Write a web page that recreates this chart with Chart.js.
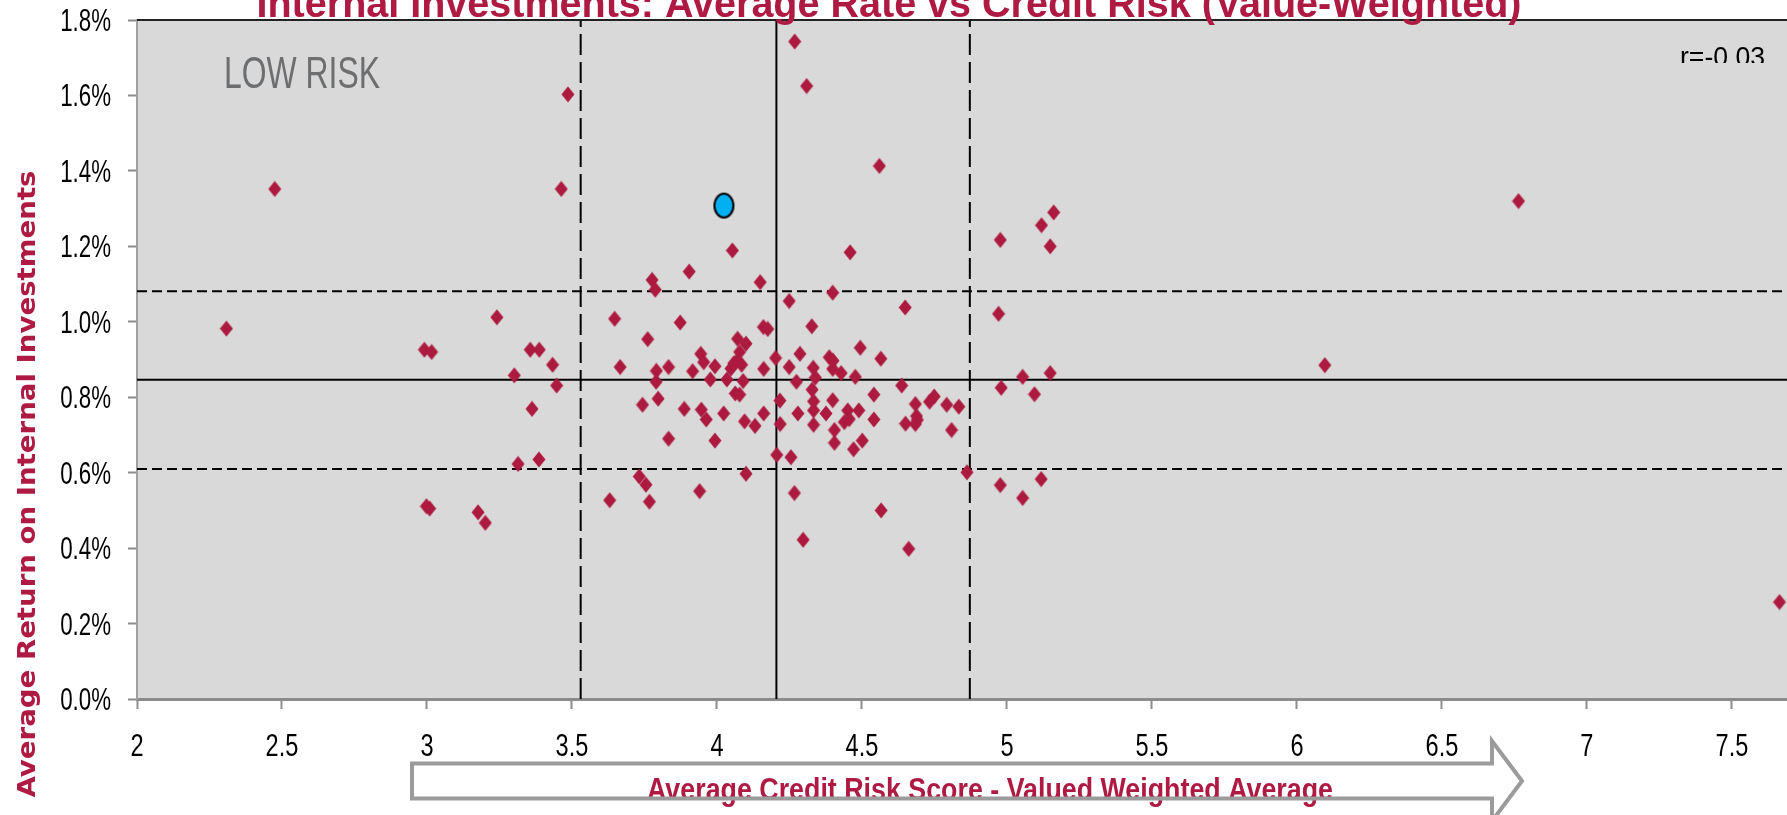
<!DOCTYPE html>
<html>
<head>
<meta charset="utf-8">
<title>Internal Investments: Average Rate vs Credit Risk</title>
<script src="https://cdn.jsdelivr.net/npm/chart.js@4.4.1/dist/chart.umd.min.js"></script>
<style>
    html, body { margin: 0; padding: 0; background: #ffffff; }
    #chart { display: block; }
</style>
</head>
<body>
<canvas id="chart" width="1787" height="815"></canvas>
<script>
// credit risk score (x) and average return in % (y), one entry per investment
const riskScores = [
    2.308, 2.475, 2.991, 2.998, 3.009, 3.016, 3.176, 3.201, 3.241, 3.301,
    3.314, 3.356, 3.362, 3.386, 3.387, 3.433, 3.447, 3.463, 3.486, 3.630,
    3.647, 3.666, 3.732, 3.743, 3.755, 3.761, 3.767, 3.776, 3.787, 3.791,
    3.790, 3.797, 3.833, 3.833, 3.873, 3.887, 3.904, 3.916, 3.940, 3.944,
    3.946, 3.954, 3.963, 3.977, 3.993, 3.993, 4.023, 4.034, 4.048, 4.053,
    4.058, 4.063, 4.070, 4.071, 4.078, 4.078, 4.085, 4.090, 4.095, 4.100,
    4.100, 4.131, 4.149, 4.160, 4.161, 4.161, 4.175, 4.202, 4.206, 4.217,
    4.218, 4.249, 4.249, 4.255, 4.267, 4.268, 4.274, 4.279, 4.286, 4.297,
    4.309, 4.327, 4.328, 4.332, 4.333, 4.333, 4.333, 4.339, 4.376, 4.387,
    4.399, 4.400, 4.399, 4.399, 4.405, 4.405, 4.428, 4.439, 4.451, 4.456,
    4.459, 4.471, 4.477, 4.489, 4.494, 4.501, 4.541, 4.541, 4.560, 4.565,
    4.566, 4.637, 4.649, 4.650, 4.661, 4.684, 4.688, 4.691, 4.684, 4.733,
    4.749, 4.792, 4.809, 4.834, 4.862, 4.971, 4.977, 4.977, 4.980, 5.054,
    5.054, 5.095, 5.118, 5.119, 5.149, 5.149, 5.161, 6.096, 6.764, 7.664
];
const avgReturns = [
    0.982, 1.352, 0.926, 0.511, 0.505, 0.920, 0.495, 0.467, 1.012, 0.858,
    0.623, 0.926, 0.769, 0.635, 0.926, 0.886, 0.831, 1.352, 1.603, 0.527,
    1.008, 0.880, 0.590, 0.780, 0.568, 0.954, 0.523, 1.111, 1.085, 0.870,
    0.841, 0.796, 0.880, 0.690, 0.998, 0.769, 1.133, 0.869, 0.551, 0.915,
    0.767, 0.893, 0.741, 0.847, 0.882, 0.685, 0.757, 0.847, 0.876, 1.189,
    0.890, 0.810, 0.897, 0.955, 0.920, 0.807, 0.886, 0.843, 0.736, 0.942,
    0.597, 0.724, 1.105, 0.986, 0.875, 0.757, 0.981, 0.904, 0.647, 0.791,
    0.729, 1.055, 0.880, 0.641, 0.546, 1.743, 0.841, 0.757, 0.915, 0.422,
    1.625, 0.988, 0.820, 0.878, 0.789, 0.765, 0.727, 0.852, 0.757, 0.906,
    1.077, 0.897, 0.875, 0.792, 0.713, 0.679, 0.864, 0.734, 0.765, 0.742,
    1.184, 0.662, 0.854, 0.765, 0.931, 0.685, 0.807, 0.741, 1.413, 0.902,
    0.500, 0.831, 1.038, 0.730, 0.398, 0.782, 0.750, 0.740, 0.729, 0.788,
    0.802, 0.780, 0.713, 0.775, 0.601, 1.021, 1.217, 0.567, 0.825, 0.854,
    0.533, 0.808, 0.583, 1.256, 1.200, 0.864, 1.290, 0.885, 1.320, 0.257
];

// highlighted investment (blue marker)
const highlightRisk = [4.024];
const highlightReturn = [1.308];

// quadrant lines: averages (solid) and bands (dashed)
const riskLines = [3.53, 4.205, 4.872];
const riskLineDashed = [true, false, true];
const returnLines = [1.081, 0.846, 0.610];
const returnLineDashed = [true, false, true];

const xTicks = [2, 2.5, 3, 3.5, 4, 4.5, 5, 5.5, 6, 6.5, 7, 7.5];
const xTickLabels = ['2', '2.5', '3', '3.5', '4', '4.5', '5', '5.5', '6', '6.5', '7', '7.5'];
const yTicks = [0, 0.2, 0.4, 0.6, 0.8, 1.0, 1.2, 1.4, 1.6, 1.8];
const yTickLabels = ['0.0%', '0.2%', '0.4%', '0.6%', '0.8%', '1.0%', '1.2%', '1.4%', '1.6%', '1.8%'];
const xMin = 2, xMax = 7.69, yMin = 0, yMax = 1.8;

const chartTitle = 'Internal Investments: Average Rate vs Credit Risk (Value-Weighted)';
const xTitle = 'Average Credit Risk Score - Valued Weighted Average';
const yTitle = 'Average Return on Internal Investments';
const cornerLabel = 'LOW RISK';
const corrLabel = 'r=-0.03';

const CRIMSON = '#AE1A41';
const SANS = '"Liberation Sans", Arial, sans-serif';

function makeDiamond() {
    const c = document.createElement('canvas');
    c.width = 14; c.height = 17;
    const g = c.getContext('2d');
    g.fillStyle = '#AD1A3F';
    g.beginPath();
    g.moveTo(7, 0.5); g.lineTo(13.5, 8.5); g.lineTo(7, 16.5); g.lineTo(0.5, 8.5);
    g.closePath();
    g.fill();
    return c;
}

function makeEllipse() {
    const c = document.createElement('canvas');
    c.width = 23; c.height = 28;
    const g = c.getContext('2d');
    g.fillStyle = '#00B0F0';
    g.strokeStyle = '#000000';
    g.lineWidth = 2;
    g.beginPath();
    g.ellipse(11.5, 14, 9.5, 12, 0, 0, Math.PI * 2);
    g.fill();
    g.stroke();
    return c;
}

// draw text squeezed/stretched horizontally to a given width
function fitText(ctx, text, x, y, width, align) {
    const natural = ctx.measureText(text).width;
    squeezeText(ctx, text, x, y, width / natural, align);
}

function squeezeText(ctx, text, x, y, sx, align) {
    ctx.save();
    ctx.translate(x, y);
    ctx.scale(sx, 1);
    ctx.textAlign = align || 'left';
    ctx.fillText(text, 0, 0);
    ctx.restore();
}

function refLineDatasets() {
    const sets = [];
    riskLines.forEach((v, i) => {
        sets.push({
            data: [{x: v, y: yMin}, {x: v, y: yMax}],
            showLine: true, pointRadius: 0, borderColor: '#000000', borderWidth: 2,
            borderDash: riskLineDashed[i] ? [21, 7] : []
        });
    });
    returnLines.forEach((v, i) => {
        sets.push({
            data: [{x: xMin, y: v}, {x: xMax, y: v}],
            showLine: true, pointRadius: 0, borderColor: '#000000', borderWidth: 2,
            borderDash: returnLineDashed[i] ? [10, 5] : []
        });
    });
    return sets;
}

const plotBackground = {
    id: 'plotBackground',
    beforeDraw(chart) {
        const {ctx, chartArea: a} = chart;
        ctx.save();
        ctx.fillStyle = '#ffffff';
        ctx.fillRect(0, 0, chart.width, chart.height);
        ctx.fillStyle = '#D9D9D9';
        ctx.fillRect(a.left, a.top, a.right - a.left, a.bottom - a.top);
        ctx.restore();
    }
};

// condensed tick labels, placed with the chart's own scales
const tickLabels = {
    id: 'tickLabels',
    afterDraw(chart) {
        const {ctx, chartArea: a, scales} = chart;
        ctx.save();
        ctx.fillStyle = '#000000';
        ctx.font = '31px ' + SANS;
        ctx.textBaseline = 'alphabetic';
        yTicks.forEach((v, i) => {
            squeezeText(ctx, yTickLabels[i], a.left - 26, scales.y.getPixelForValue(v) + 11, 0.72, 'right');
        });
        xTicks.forEach((v, i) => {
            squeezeText(ctx, xTickLabels[i], scales.x.getPixelForValue(v), a.bottom + 57, 0.76, 'center');
        });
        ctx.restore();
    }
};

const decorations = {
    id: 'decorations',
    afterDraw(chart) {
        const {ctx, chartArea: a} = chart;
        ctx.save();

        // dark top edge of the plot
        ctx.strokeStyle = '#222222';
        ctx.lineWidth = 2;
        ctx.beginPath();
        ctx.moveTo(a.left, a.top);
        ctx.lineTo(a.right, a.top);
        ctx.stroke();

        // title, cut by the top of the picture
        ctx.fillStyle = CRIMSON;
        ctx.font = 'bold 40px ' + SANS;
        ctx.textBaseline = 'alphabetic';
        fitText(ctx, chartTitle, 889, 17, 1265, 'center');

        // LOW RISK corner note
        ctx.fillStyle = '#6D6E70';
        ctx.font = '45px ' + SANS;
        fitText(ctx, cornerLabel, a.left + 87, a.top + 68, 156, 'left');

        // correlation note, clipped at its box bottom
        ctx.save();
        ctx.beginPath();
        ctx.rect(a.right - 130, a.top + 10, 130, 33);
        ctx.clip();
        ctx.fillStyle = '#000000';
        ctx.font = '28px ' + SANS;
        fitText(ctx, corrLabel, a.right - 107, a.top + 46, 85, 'left');
        ctx.restore();

        // y axis title
        ctx.save();
        ctx.translate(35, 484);
        ctx.rotate(-Math.PI / 2);
        ctx.fillStyle = CRIMSON;
        ctx.font = 'bold 24px "DejaVu Sans", Verdana, sans-serif';
        fitText(ctx, yTitle, 0, 0, 627, 'center');
        ctx.restore();

        // arrow box with the x axis title
        const left = 412, top = 763.5, bottom = 798.5, headX = 1492, tipX = 1522;
        const midY = (top + bottom) / 2;
        ctx.beginPath();
        ctx.moveTo(left, top);
        ctx.lineTo(headX, top);
        ctx.lineTo(headX, midY - 40);
        ctx.lineTo(tipX, midY);
        ctx.lineTo(headX, midY + 40);
        ctx.lineTo(headX, bottom);
        ctx.lineTo(left, bottom);
        ctx.closePath();
        ctx.fillStyle = '#ffffff';
        ctx.fill();

        ctx.fillStyle = CRIMSON;
        ctx.font = 'bold 32px ' + SANS;
        fitText(ctx, xTitle, 647, 800, 686, 'left');

        ctx.strokeStyle = '#9B9B9B';
        ctx.lineWidth = 4;
        ctx.lineJoin = 'miter';
        ctx.stroke();

        ctx.restore();
    }
};

document.addEventListener('DOMContentLoaded', () => {
    const ctx = document.getElementById('chart').getContext('2d');

    const points = riskScores.map((x, i) => ({x: x, y: avgReturns[i]}));
    const highlight = highlightRisk.map((x, i) => ({x: x, y: highlightReturn[i]}));

    new Chart(ctx, {
        type: 'scatter',
        data: {
            datasets: [
                { data: highlight, pointStyle: makeEllipse(), showLine: false },
                { data: points, pointStyle: makeDiamond(), showLine: false },
                ...refLineDatasets()
            ]
        },
        options: {
            responsive: false,
            devicePixelRatio: 1,
            animation: false,
            events: [],
            layout: { autoPadding: false, padding: { top: 20, right: 0, bottom: 0, left: 0 } },
            plugins: {
                legend: { display: false },
                tooltip: { enabled: false }
            },
            scales: {
                x: {
                    type: 'linear',
                    min: xMin,
                    max: xMax,
                    afterBuildTicks: (scale) => { scale.ticks = xTicks.map(v => ({value: v})); },
                    afterFit: (scale) => { scale.height = 116; },
                    ticks: { display: false },
                    grid: { drawOnChartArea: false, drawTicks: true, tickLength: 10, tickColor: '#8C8C8C', tickWidth: 2 },
                    border: { color: '#8C8C8C', width: 3 }
                },
                y: {
                    type: 'linear',
                    min: yMin,
                    max: yMax,
                    afterBuildTicks: (scale) => { scale.ticks = yTicks.map(v => ({value: v})); },
                    afterFit: (scale) => { scale.width = 137; },
                    ticks: { display: false },
                    grid: { drawOnChartArea: false, drawTicks: true, tickLength: 9, tickColor: '#8C8C8C', tickWidth: 2 },
                    border: { color: '#A0A0A0', width: 2 }
                }
            }
        },
        plugins: [plotBackground, tickLabels, decorations]
    });
});
</script>
</body>
</html>
